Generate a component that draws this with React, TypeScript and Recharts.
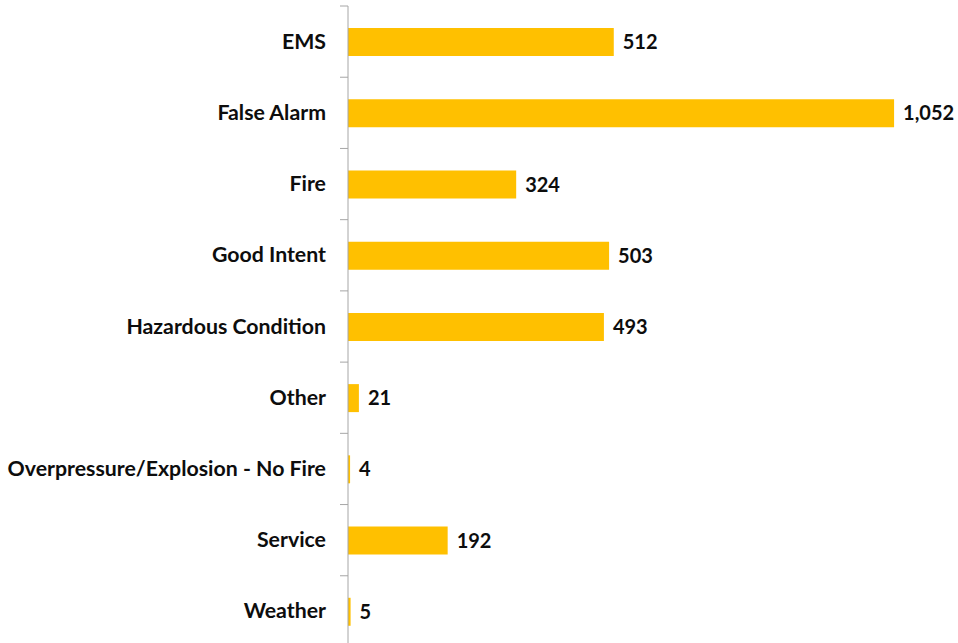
import { BarChart, Bar, XAxis, YAxis, LabelList } from "recharts";

const categories = [
  "EMS",
  "False Alarm",
  "Fire",
  "Good Intent",
  "Hazardous Condition",
  "Other",
  "Overpressure/Explosion - No Fire",
  "Service",
  "Weather",
];
const counts = [512, 1052, 324, 503, 493, 21, 4, 192, 5];

const data = categories.map((name, i) => ({ name, count: counts[i] }));

const FONT = "Lato, 'Open Sans', sans-serif";
const BAND = (650 - 6 - 3) / categories.length;

const CategoryTick = (props: any) => {
  const { x, y, payload } = props;
  return (
    <g>
      <line x1={x + 14} x2={x + 22} y1={y - BAND / 2} y2={y - BAND / 2} stroke="#a6a6a6" />
      <text
        x={x}
        y={y}
        dy={7}
        textAnchor="end"
        fontFamily={FONT}
        fontWeight={700}
        fontSize={21.3}
        fill="#0d0d0d"
      >
        {payload.value}
      </text>
    </g>
  );
};

export default function App() {
  return (
    <div style={{ position: "absolute", left: 0, top: 0, width: 958, height: 643, overflow: "hidden" }}>
      <BarChart
        width={958}
        height={650}
        data={data}
        layout="vertical"
        margin={{ top: 6, right: 39, bottom: 3, left: 0 }}
        barSize={28}
      >
        <XAxis type="number" domain={[0, 1100]} hide />
        <YAxis
          type="category"
          dataKey="name"
          width={348}
          axisLine={{ stroke: "#a6a6a6" }}
          tickLine={false}
          tick={<CategoryTick />}
          tickMargin={16}
          interval={0}
        />
        <Bar dataKey="count" fill="#FFC000" isAnimationActive={false}>
          <LabelList
            dataKey="count"
            position="right"
            offset={9}
            formatter={(v: any) => Number(v).toLocaleString("en-US")}
            style={{ fontFamily: FONT, fontWeight: 700, fontSize: 20, fill: "#0d0d0d" }}
          />
        </Bar>
      </BarChart>
    </div>
  );
}
